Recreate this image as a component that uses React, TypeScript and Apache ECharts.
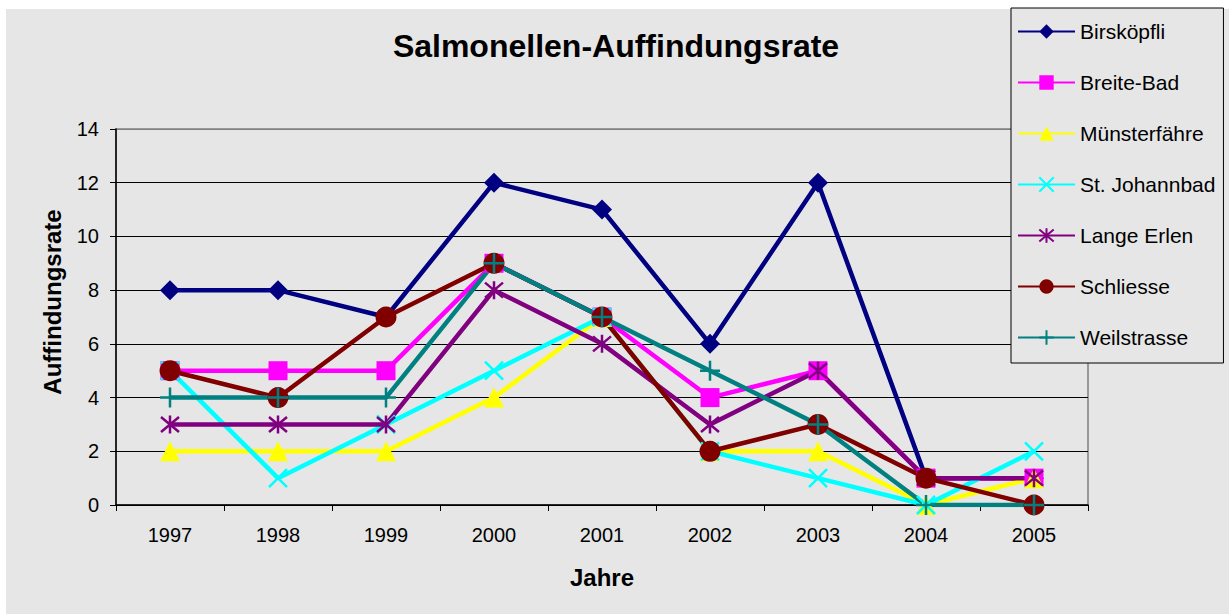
import React, { useEffect, useRef } from "react";
import * as echarts from "echarts";

const years = ["1997", "1998", "1999", "2000", "2001", "2002", "2003", "2004", "2005"];
const birskoepfli = [8, 8, 7, 12, 11, 6, 12, 1, 1];
const breiteBad = [5, 5, 5, 9, 7, 4, 5, 1, 1];
const muensterfaehre = [2, 2, 2, 4, 7, 2, 2, 0, 1];
const stJohannbad = [5, 1, 3, 5, 7, 2, 1, 0, 2];
const langeErlen = [3, 3, 3, 8, 6, 3, 5, 1, 1];
const schliesse = [5, 4, 7, 9, 7, 2, 3, 1, 0];
const weilstrasse = [4, 4, 4, 9, 7, 5, 3, 0, 0];

const FONT = "'Liberation Sans', Arial, sans-serif";

const X_PATH = "path://M0 0L10 10M10 0L0 10";
const STAR_PATH = "path://M0 0L10 10M10 0L0 10M5 -1L5 11";
const PLUS_PATH = "path://M5 0L5 10M0 5L10 5";

function mkSeries(name: string, data: number[], color: string, symbol: string, size: number, stroke: boolean) {
  return {
    name,
    type: "line",
    data,
    color,
    symbol,
    symbolSize: size,
    lineStyle: { color, width: 4.5 },
    itemStyle: stroke
      ? { color, borderColor: color, borderWidth: 2.5 }
      : { color, borderWidth: 0 },
    emphasis: { disabled: true },
  };
}

export default function App() {
  const ref = useRef<HTMLDivElement>(null);
  useEffect(() => {
    if (!ref.current) return;
    const chart = echarts.init(ref.current, null, { renderer: "svg" });
    const textEl = (text: string, x: number, y: number, size: number, rotation = 0) => ({
      type: "text",
      x,
      y,
      rotation,
      style: {
        text,
        font: `bold ${size}px ${FONT}`,
        fill: "#000",
        textAlign: "center",
        textVerticalAlign: "middle",
      },
    });
    chart.setOption({
      animation: false,
      backgroundColor: "transparent",
      textStyle: { fontFamily: FONT },
      graphic: [
        textEl("Salmonellen-Auffindungsrate", 616, 46, 32),
        textEl("Auffindungsrate", 52, 302, 24, Math.PI / 2),
        textEl("Jahre", 602, 577, 24),
      ],
      grid: {
        left: 116,
        right: 141,
        top: 129,
        bottom: 109,
        show: true,
        borderColor: "#808080",
        borderWidth: 1.5,
        backgroundColor: "transparent",
      },
      legend: {
        orient: "vertical",
        left: 1011,
        top: 8,
        padding: [13, 8, 15, 6],
        itemWidth: 57,
        itemHeight: 18,
        itemGap: 30,
        backgroundColor: "#e6e6e6",
        borderColor: "#000",
        borderWidth: 1,
        borderRadius: 0,
        textStyle: { fontSize: 21, fontFamily: FONT, color: "#000" },
      },
      xAxis: {
        type: "category",
        data: years,
        boundaryGap: true,
        axisLine: { lineStyle: { color: "#000", width: 1.5 } },
        axisTick: { show: true, length: 6, alignWithLabel: false, lineStyle: { color: "#000" } },
        axisLabel: { fontSize: 20, color: "#000", margin: 20, fontFamily: FONT },
        splitLine: { show: false },
      },
      yAxis: {
        type: "value",
        min: 0,
        max: 14,
        interval: 2,
        axisLine: { show: true, lineStyle: { color: "#000", width: 1.5 } },
        axisTick: { show: true, length: 6, lineStyle: { color: "#000" } },
        axisLabel: { fontSize: 20, color: "#000", margin: 17, fontFamily: FONT },
        splitLine: {
          show: true,
          lineStyle: {
            color: ["#000", "#000", "#000", "#000", "#000", "#000", "#000", "#808080"],
            width: 1,
          },
        },
      },
      series: [
        mkSeries("Birsköpfli", birskoepfli, "#000080", "diamond", 20, false),
        mkSeries("Breite-Bad", breiteBad, "#ff00ff", "rect", 19, false),
        mkSeries("Münsterfähre", muensterfaehre, "#ffff00", "triangle", 20, false),
        mkSeries("St. Johannbad", stJohannbad, "#00ffff", X_PATH, 18, true),
        mkSeries("Lange Erlen", langeErlen, "#800080", STAR_PATH, 18, true),
        mkSeries("Schliesse", schliesse, "#800000", "circle", 21, false),
        mkSeries("Weilstrasse", weilstrasse, "#008080", PLUS_PATH, 20, true),
      ],
    });
    return () => chart.dispose();
  }, []);

  return (
    <div style={{ position: "absolute", left: 0, top: 0, width: 1229, height: 614, background: "#fff" }}>
      <div style={{ position: "absolute", left: 6, top: 9, right: 0, bottom: 0, background: "#e6e6e6" }} />
      <div ref={ref} style={{ position: "absolute", left: 0, top: 0, width: 1229, height: 614 }} />
    </div>
  );
}
